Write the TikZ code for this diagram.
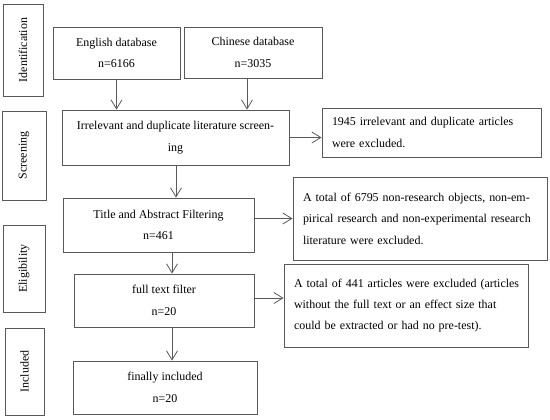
\documentclass[tikz,border=0pt]{standalone}
\usepackage{fontspec}
\setmainfont{Liberation Serif}
\usetikzlibrary{arrows.meta}
\begin{document}
\begin{tikzpicture}[x=1bp,y=-1bp,
  box/.style={draw=black!65, line width=0.9bp, inner sep=0pt, align=center,
    font=\fontsize{12}{21.5}\selectfont, text=black},
  exbox/.style={box, align=left},
  side/.style={box, rotate=90},
  arr/.style={draw=black!65, line width=0.8bp, -{Straight Barb[length=9bp,width=11bp,line width=0.8bp]}}]
\useasboundingbox (0,0) rectangle (550,419);
% side labels
\node[side, minimum width=92bp, minimum height=40bp] (sid) at (23,50) {Identification};
\node[side, minimum width=89bp, minimum height=44bp] (ssc) at (24,155.5) {Screening};
\node[side, minimum width=87bp, minimum height=42bp] (sel) at (24,268.5) {Eligibility};
\node[side, minimum width=87bp, minimum height=39bp] (sin) at (24.5,371.5) {Included};
% main boxes
\node[box, minimum width=127bp, minimum height=52bp] (eng) at (116.5,53) {English database\\n=6166};
\node[box, minimum width=138bp, minimum height=51bp] (chn) at (253,52.5) {Chinese database\\n=3035};
\node[box, minimum width=227bp, minimum height=55bp] (scr) at (175.5,137.5) {Irrelevant and duplicate literature screen-\\ing};
\node[box, minimum width=191bp, minimum height=54bp] (tit) at (158.5,225) {Title and Abstract Filtering\\n=461};
\node[box, minimum width=180bp, minimum height=53bp] (ful) at (164,300.5) {full text filter\\n=20};
\node[box, minimum width=184bp, minimum height=53bp] (fin) at (165,387.5) {finally included\\n=20};
% exclusion boxes
\node[exbox, minimum width=219bp, minimum height=49bp, text width=199bp] (ex1) at (431.5,132.5) {\mbox{1945 irrelevant and duplicate articles}\\\mbox{were excluded.}};
\node[exbox, minimum width=254bp, minimum height=83bp, text width=234bp] (ex2) at (420,218.5) {\mbox{A total of 6795 non-research objects, non-em-}\\\mbox{pirical research and non-experimental research}\\\mbox{literature were excluded.}};
\node[exbox, minimum width=244bp, minimum height=83bp, text width=224bp] (ex3) at (406,305.5) {\mbox{A total of 441 articles were excluded (articles}\\\mbox{without the full text or an effect size that}\\\mbox{could be extracted or had no pre-test).}};
% arrows
\draw[arr] (eng.south) -- (eng.south |- scr.north);
\draw[arr] (chn.south -| 247,0) -- (scr.north -| 247,0);
\draw[arr] (scr.south -| 176,0) -- (tit.north -| 176,0);
\draw[arr] (tit.south -| 172,0) -- (ful.north -| 172,0);
\draw[arr] (ful.south -| 172,0) -- (fin.north -| 172,0);
\draw[arr] (scr.east) -- (scr.east -| ex1.west);
\draw[arr] (ex2.west -| tit.east) -- (ex2.west);
\draw[arr] (ful.east |- 0,298) -- (ex3.west |- 0,298);
\end{tikzpicture}
\end{document}
